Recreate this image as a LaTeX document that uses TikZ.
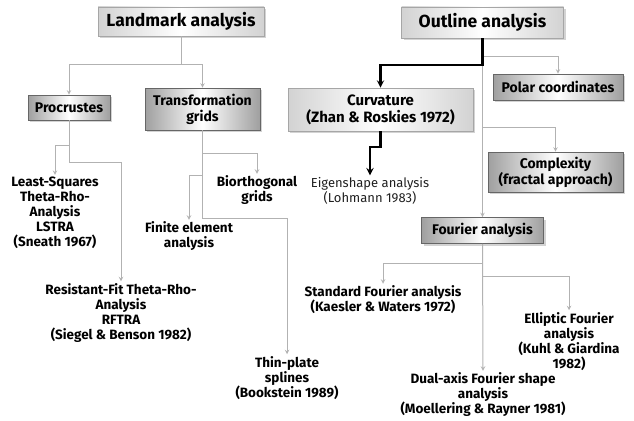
\documentclass[tikz,border=0pt]{standalone}
\usepackage{fontspec}
\setmainfont{Fira Sans}
\usetikzlibrary{shadows}

\begin{document}
\begin{tikzpicture}[x=1pt, y=-1pt, >=stealth,
    conn/.style={draw=gray!60, line width=1pt},
    bold conn/.style={draw=black, line width=2.2pt},
    topbox/.style={draw=gray!70, line width=0.6pt, left color=gray!35, right color=gray!35, middle color=white,
        drop shadow={shadow xshift=2pt, shadow yshift=-2pt, opacity=0.35}, align=center, inner sep=0pt,
        font=\fontsize{17.5}{19}\selectfont\bfseries},
    curvbox/.style={topbox, font=\fontsize{15}{17}\selectfont\bfseries},
    greybox/.style={draw=gray!80!black, line width=0.6pt, left color=gray!75, right color=gray!75, middle color=white,
        drop shadow={shadow xshift=2pt, shadow yshift=-2pt, opacity=0.35}, align=center, inner sep=0pt,
        font=\fontsize{14}{16}\selectfont\bfseries},
    leaf/.style={align=center, inner sep=2pt, font=\fontsize{13.5}{15}\selectfont\bfseries}]

    \useasboundingbox (0,0) rectangle (634,420);

    % boxes
    \node[topbox, minimum width=166pt, minimum height=29pt] (landmark) at (181,21.5) {Landmark analysis};
    \node[topbox, minimum width=162pt, minimum height=31pt] (outline) at (482.5,22.5) {Outline analysis};
    \node[greybox, minimum width=82pt, minimum height=25pt] (procrustes) at (69,107.5) {Procrustes};
    \node[greybox, minimum width=115pt, minimum height=42pt] (tgrids) at (202.5,109) {Transformation\\grids};
    \node[curvbox, minimum width=185pt, minimum height=43pt] (curvature) at (380.5,109.5) {Curvature\\(Zhan \& Roskies 1972)};
    \node[greybox, minimum width=130pt, minimum height=26pt] (polar) at (558,87) {Polar coordinates};
    \node[greybox, minimum width=135pt, minimum height=40pt] (complexity) at (555.5,172) {Complexity\\(fractal approach)};
    \node[greybox, minimum width=122pt, minimum height=26pt] (fourier) at (482.5,230.5) {Fourier analysis};

    % methods
    \node[leaf] (lstra) at (55,213) {Least-Squares\\Theta-Rho-\\Analysis\\LSTRA\\(Sneath 1967)};
    \node[leaf] (rftra) at (121,313) {Resistant-Fit Theta-Rho-\\Analysis\\RFTRA\\(Siegel \& Benson 1982)};
    \node[leaf] (fem) at (189,236.5) {Finite element\\analysis};
    \node[leaf] (bio) at (257,190.5) {Biorthogonal\\grids};
    \node[leaf] (tps) at (287,378) {Thin-plate\\splines\\(Bookstein 1989)};
    \node[leaf, font=\fontsize{13}{15}\selectfont, text=gray!25!black] (eigen) at (370,191) {Eigenshape analysis\\(Lohmann 1983)};
    \node[leaf] (sfa) at (383,300) {Standard Fourier analysis\\(Kaesler \& Waters 1972)};
    \node[leaf] (efa) at (569,341.5) {Elliptic Fourier\\analysis\\(Kuhl \& Giardina\\1982)};
    \node[leaf] (dual) at (483,395) {Dual-axis Fourier shape\\analysis\\(Moellering \& Rayner 1981)};

    % bus levels
    \coordinate (lmbus) at (0,65);
    \coordinate (prbusA) at (0,145);
    \coordinate (prbusB) at (0,162);
    \coordinate (tgbusA) at (0,153);
    \coordinate (tgbusB) at (0,175);
    \coordinate (tgbusC) at (0,218);
    \coordinate (olbusA) at (0,57);
    \coordinate (olbusB) at (0,65);
    \coordinate (olbusC) at (0,127);
    \coordinate (cvbus) at (0,147);
    \coordinate (fabusA) at (0,263);
    \coordinate (fabusB) at (0,276);

    % landmark side
    \draw[conn, ->] (landmark.south) -- (landmark.south |- lmbus) -| (procrustes.north);
    \draw[conn, ->] (landmark.south |- lmbus) -| (tgrids.north);
    \draw[conn, ->] (procrustes.south) -- (procrustes.south |- prbusB) -| (rftra.north);
    \draw[conn, ->] (procrustes.south |- prbusA) -| (lstra.north);
    \draw[conn, ->] (tgrids.south) -- (tgrids.south |- tgbusC) -| (tps.north);
    \draw[conn, ->] (tgrids.south |- tgbusA) -| (bio.north);
    \draw[conn, ->] (tgrids.south |- tgbusB) -| (fem.north);

    % outline side
    \draw[conn, ->] (outline.south) -- (fourier.north);
    \draw[conn, ->] (outline.south |- olbusA) -| (polar.north);
    \draw[conn, ->] (outline.south |- olbusC) -| (complexity.north);
    \draw[bold conn, ->] (outline.south) -- (outline.south |- olbusB) -| (curvature.north);
    \draw[bold conn, ->] (curvature.south) -- (curvature.south |- cvbus) -| (eigen.north);
    \draw[conn, ->] (fourier.south) -- (dual.north);
    \draw[conn, ->] (fourier.south |- fabusA) -| (sfa.north);
    \draw[conn, ->] (fourier.south |- fabusB) -| (efa.north);
\end{tikzpicture}
\end{document}
